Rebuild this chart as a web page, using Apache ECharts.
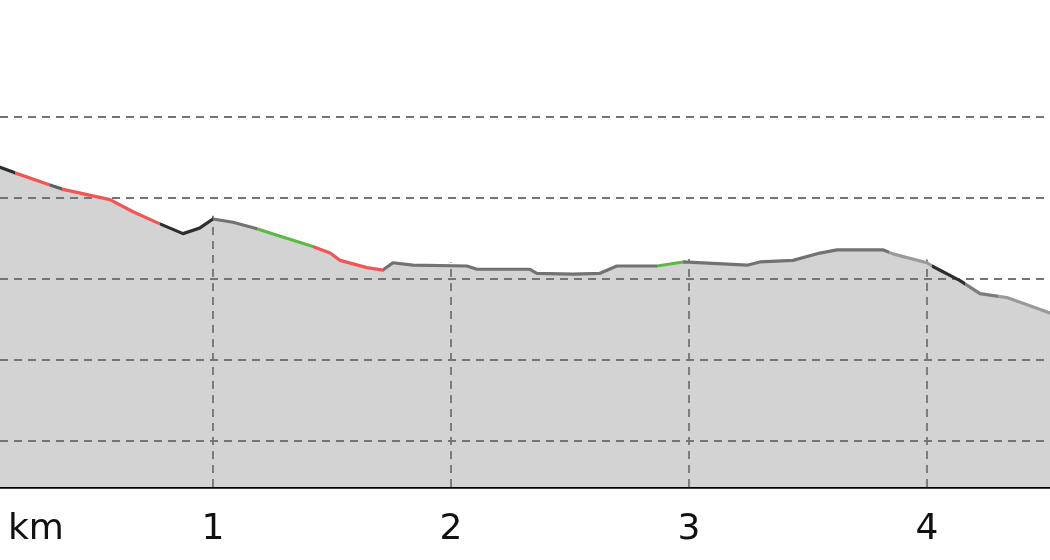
<!DOCTYPE html>
<html>
<head>
<meta charset="utf-8">
<script src="https://cdn.jsdelivr.net/npm/echarts@6/dist/echarts.min.js"></script>
<style>
  html, body { margin: 0; padding: 0; background: #fff; }
  #chart { width: 1050px; height: 560px; }
</style>
</head>
<body>
<div id="chart"></div>
<script>
  /* ---- Data ---- */
  const distKm = [0.105, 0.168, 0.315, 0.366, 0.567, 0.664, 0.777, 0.874, 0.945, 1.000,
    1.084, 1.185, 1.269, 1.420, 1.492, 1.534, 1.647, 1.714, 1.756, 1.840,
    2.067, 2.109, 2.332, 2.361, 2.513, 2.626, 2.697, 2.866, 2.975, 3.059,
    3.244, 3.298, 3.437, 3.550, 3.622, 3.815, 3.857, 4.000, 4.021, 4.139,
    4.223, 4.336, 4.517];
  const elevM = [63.8, 63.1, 61.6, 61.1, 59.8, 58.3, 56.8, 55.6, 56.3, 57.4,
    57.0, 56.2, 55.4, 54.0, 53.2, 52.3, 51.4, 51.1, 52.0, 51.7,
    51.6, 51.2, 51.2, 50.7, 50.6, 50.7, 51.6, 51.6, 52.1, 52.0,
    51.7, 52.1, 52.3, 53.2, 53.6, 53.6, 53.1, 52.0, 51.6, 49.8,
    48.2, 47.7, 45.8];
  // slope colour sections along the track: [fromKm, toKm, colour]
  const sections = [
    [0.105, 0.168, "#2e2e2e"], [0.168, 0.315, "#f05656"], [0.315, 0.366, "#5a5f66"],
    [0.366, 0.777, "#f05656"], [0.777, 1.000, "#2e2e2e"], [1.000, 1.185, "#727272"],
    [1.185, 1.420, "#5db848"], [1.420, 1.714, "#f05656"], [1.714, 2.866, "#727272"],
    [2.866, 2.975, "#5db848"], [2.975, 3.840, "#727272"], [3.840, 4.021, "#9a9a9a"],
    [4.021, 4.160, "#2e2e2e"], [4.160, 4.300, "#7c7c7c"], [4.300, 4.600, "#9a9a9a"]
  ];
  const gridElev = [30, 40, 50, 60, 70];
  const kmTicks = [1, 2, 3, 4];

  const X_MIN = 0.105, X_MAX = 4.517, Y_MIN = 24.32, Y_MAX = 84.44;

  /* ---- Utils ---- */
  function elevAt(km) {
    for (let i = 1; i < distKm.length; i++) {
      if (km <= distKm[i]) {
        const t = (km - distKm[i - 1]) / (distKm[i] - distKm[i - 1]);
        return elevM[i - 1] + t * (elevM[i] - elevM[i - 1]);
      }
    }
    return elevM[elevM.length - 1];
  }

  const points = distKm.map((d, i) => [d, elevM[i]]);
  const dash = { color: "#747474", width: 1.8, type: [8, 6] };

  const chart = echarts.init(document.getElementById("chart"), null, { renderer: "canvas" });
  chart.setOption({
    animation: false,
    backgroundColor: "#fff",
    grid: { left: 0, right: 0, top: 0, bottom: 73 },
    xAxis: {
      type: "value", min: X_MIN, max: X_MAX,
      name: "km", nameLocation: "start", nameGap: -8,
      nameTextStyle: { align: "left", verticalAlign: "top", padding: [25, 0, 0, 0],
        fontFamily: "DejaVu Sans", fontSize: 36, color: "#111" },
      axisLine: { show: true, lineStyle: { color: "#000", width: 2.5 } },
      axisTick: { show: false },
      splitLine: { show: false },
      axisLabel: { customValues: kmTicks, margin: 25, fontFamily: "DejaVu Sans", fontSize: 36, color: "#111" },
    },
    yAxis: {
      type: "value", min: Y_MIN, max: Y_MAX,
      axisLine: { show: false }, axisTick: { show: false }, axisLabel: { show: false },
      splitLine: { show: false },
    },
    visualMap: {
      show: false, type: "piecewise", dimension: 0, seriesIndex: 1,
      pieces: sections.map(s => ({ gte: s[0], lt: s[1], color: s[2] })),
      outOfRange: { color: "#777" },
    },
    series: [
      {
        type: "line", data: points, symbol: "none", silent: true,
        lineStyle: { width: 0 },
        areaStyle: { color: "#d3d3d3", opacity: 1 },
        markLine: {
          silent: true, symbol: "none", label: { show: false }, lineStyle: dash,
          data: gridElev.map(v => ({ yAxis: v }))
            .concat(kmTicks.map(k => [{ coord: [k, Y_MIN] }, { coord: [k, elevAt(k) + 0.4] }])),
        },
      },
      {
        type: "line", data: points, symbol: "none", silent: true, z: 5,
        lineStyle: { width: 3.2, cap: "round", join: "round" },
      },
    ],
  });
</script>
</body>
</html>
